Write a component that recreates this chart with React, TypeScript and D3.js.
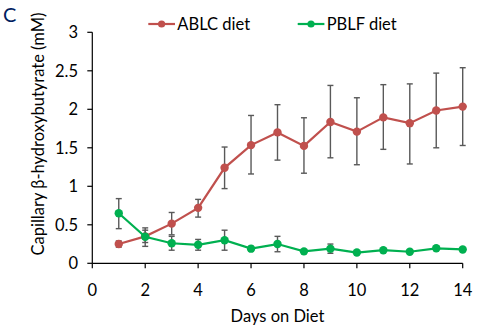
import React from "react";
import * as d3 from "d3";

const days = [1, 2, 3, 4, 5, 6, 7, 8, 9, 10, 11, 12, 13, 14];
const ablcMean = [0.25, 0.35, 0.515, 0.72, 1.24, 1.535, 1.7, 1.525, 1.835, 1.71, 1.895, 1.82, 1.985, 2.035];
const ablcLow = [0.21, 0.27, 0.37, 0.6, 0.97, 1.16, 1.34, 1.17, 1.37, 1.28, 1.48, 1.29, 1.5, 1.53];
const ablcHigh = [0.29, 0.43, 0.66, 0.83, 1.51, 1.92, 2.06, 1.89, 2.31, 2.15, 2.32, 2.33, 2.47, 2.54];
const pblfMean = [0.65, 0.345, 0.26, 0.24, 0.3, 0.19, 0.25, 0.155, 0.19, 0.14, 0.17, 0.15, 0.195, 0.18];
const pblfLow = [0.45, 0.22, 0.17, 0.17, 0.17, 0.16, 0.15, 0.14, 0.13, 0.13, 0.15, 0.13, 0.17, 0.16];
const pblfHigh = [0.84, 0.46, 0.35, 0.31, 0.43, 0.22, 0.35, 0.17, 0.25, 0.15, 0.19, 0.17, 0.22, 0.2];
const xTicks = [0, 2, 4, 6, 8, 10, 12, 14];
const yTicks = [0, 0.5, 1, 1.5, 2, 2.5, 3];

const FONT = "Lato, 'Open Sans', sans-serif";
const FS = 16.5;

export default function App() {
  const W = 479, H = 326;
  const x = d3.scaleLinear().domain([0, 14]).range([92.3, 462.7]);
  const y = d3.scaleLinear().domain([0, 3]).range([263.3, 32.3]);
  const line = d3.line<number>().x((_, i) => x(days[i])).y((v) => y(v));
  const series = [
    { name: "ABLC diet", color: "#C0504D", mean: ablcMean, low: ablcLow, high: ablcHigh, lx: 148.3 },
    { name: "PBLF diet", color: "#00B050", mean: pblfMean, low: pblfLow, high: pblfHigh, lx: 297.7 },
  ];
  return (
    <svg width={W} height={H} style={{ position: "absolute", left: 0, top: 0 }} fontFamily={FONT}>
      <rect width={W} height={H} fill="#fff" />
      <text x={3} y={22} fontSize={20} fill="#002060">C</text>
      {/* axes */}
      <line x1={x(0)} x2={x(0)} y1={y(3)} y2={y(0)} stroke="#000" strokeWidth={1.2} />
      <line x1={x(0)} x2={x(14)} y1={y(0)} y2={y(0)} stroke="#000" strokeWidth={1.2} />
      {yTicks.map((t) => (
        <g key={"y" + t}>
          <line x1={x(0) - 5} x2={x(0)} y1={y(t)} y2={y(t)} stroke="#000" strokeWidth={1.2} />
          <text x={78} y={y(t)} dy="0.35em" textAnchor="end" fontSize={FS} fill="#000">{t}</text>
        </g>
      ))}
      {xTicks.map((t) => (
        <g key={"x" + t}>
          <line x1={x(t)} x2={x(t)} y1={y(0)} y2={y(0) + 5} stroke="#000" strokeWidth={1.2} />
          <text x={x(t)} y={296} textAnchor="middle" fontSize={FS} fill="#000">{t}</text>
        </g>
      ))}
      <text x={x(7)} y={322} textAnchor="middle" fontSize={FS} fill="#000">Days on Diet</text>
      <text transform={`translate(44,134) rotate(-90)`} textAnchor="middle" fontSize={FS} fill="#000">
        Capillary β-hydroxybutyrate (mM)
      </text>
      {/* data */}
      {series.map((s) => (
        <g key={s.name}>
          <path d={line(s.mean) || ""} fill="none" stroke={s.color} strokeWidth={2.2} />
          {days.map((d, i) => (
            <g key={d} stroke="#595959" strokeWidth={1.4}>
              <line x1={x(d)} x2={x(d)} y1={y(s.low[i])} y2={y(s.high[i])} />
              <line x1={x(d) - 3} x2={x(d) + 3} y1={y(s.low[i])} y2={y(s.low[i])} />
              <line x1={x(d) - 3} x2={x(d) + 3} y1={y(s.high[i])} y2={y(s.high[i])} />
            </g>
          ))}
          {days.map((d, i) => (
            <circle key={"c" + d} cx={x(d)} cy={y(s.mean[i])} r={4.2} fill={s.color} />
          ))}
          <line x1={s.lx} x2={s.lx + 26.7} y1={24} y2={24} stroke={s.color} strokeWidth={2.2} />
          <circle cx={s.lx + 13.3} cy={24} r={3.6} fill={s.color} />
          <text x={s.lx + 29} y={24} dy="0.35em" fontSize={FS} fill="#000">{s.name}</text>
        </g>
      ))}
    </svg>
  );
}
